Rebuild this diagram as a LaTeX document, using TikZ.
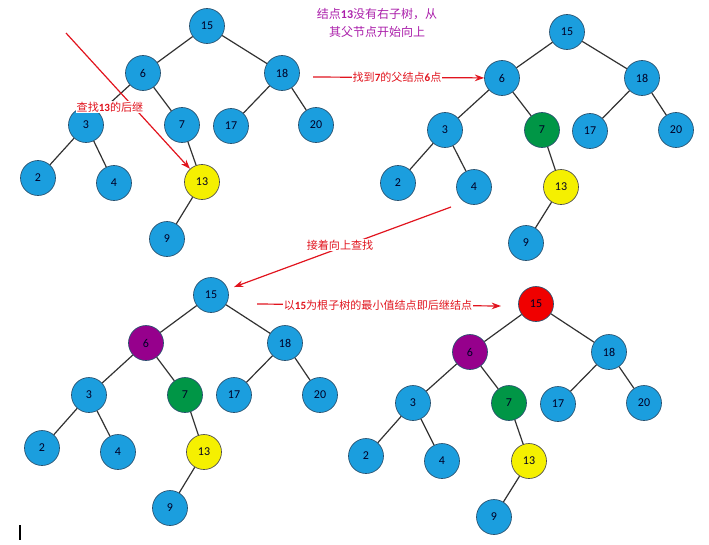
\documentclass[tikz,border=0pt]{standalone}
\usepackage{fontspec}
\setmainfont{Carlito}
\newfontfamily\cjk{Noto Sans CJK SC}
\usetikzlibrary{arrows.meta}
\definecolor{nblue}{RGB}{27,158,222}
\definecolor{nborder}{RGB}{40,80,110}
\definecolor{nyellow}{RGB}{245,240,0}
\definecolor{ngreen}{RGB}{0,150,70}
\definecolor{npurple}{RGB}{150,0,140}
\definecolor{nred}{RGB}{240,0,0}
\definecolor{edgecol}{RGB}{50,50,50}
\definecolor{annred}{RGB}{225,20,30}
\definecolor{annpurple}{RGB}{170,30,170}
\newcommand{\bn}[1]{{\rmfamily\bfseries #1}}
\begin{document}
\begin{tikzpicture}[x=0.75pt,y=-0.75pt,
  tn/.style={circle, draw=nborder, line width=0.5pt, fill=nblue, minimum size=26.25pt, inner sep=0pt,
     text=black!85!blue, font=\fontsize{9}{10}\selectfont},
  yl/.style={tn, fill=nyellow, draw=black!70},
  gr/.style={tn, fill=ngreen},
  pu/.style={tn, fill=npurple},
  rd/.style={tn, fill=nred},
  tedge/.style={draw=edgecol, line width=0.9pt},
  ann/.style={draw=annred, line width=0.9pt},
  annarrow/.style={ann, -{Stealth[length=7pt,width=5pt]}},
  annlbl/.style={fill=white, inner sep=0.5pt, text=annred, font=\cjk\fontsize{8.3}{10}\selectfont}
]
\useasboundingbox (0,0) rectangle (709,544);

% ---------- Tree 1 ----------
\node[tn] (a15) at (207,26) {15};
\node[tn] (a6)  at (143,73) {6};
\node[tn] (a18) at (282,73) {18};
\node[tn] (a3)  at (86,125) {3};
\node[tn] (a7)  at (182,125) {7};
\node[tn] (a17) at (231,126) {17};
\node[tn] (a20) at (316,125) {20};
\node[tn] (a2)  at (38,178) {2};
\node[tn] (a4)  at (114,183) {4};
\node[yl] (a13) at (202,182) {13};
\node[tn] (a9)  at (167,239) {9};
\foreach \p/\c in {a15/a6,a15/a18,a6/a3,a6/a7,a3/a2,a3/a4,a7/a13,a13/a9,a18/a17,a18/a20}
  \draw[tedge] (\p) -- (\c);

% ---------- Tree 2 ----------
\node[tn] (b15) at (567,32) {15};
\node[tn] (b6)  at (502,78) {6};
\node[tn] (b18) at (642,78) {18};
\node[tn] (b3)  at (445,130) {3};
\node[gr] (b7)  at (542,130) {7};
\node[tn] (b17) at (590,131) {17};
\node[tn] (b20) at (676,130) {20};
\node[tn] (b2)  at (398,183) {2};
\node[tn] (b4)  at (474,187) {4};
\node[yl] (b13) at (561,187) {13};
\node[tn] (b9)  at (526,243) {9};
\foreach \p/\c in {b15/b6,b15/b18,b6/b3,b6/b7,b3/b2,b3/b4,b7/b13,b13/b9,b18/b17,b18/b20}
  \draw[tedge] (\p) -- (\c);

% ---------- Tree 3 ----------
\node[tn] (c15) at (211,295) {15};
\node[pu] (c6)  at (146,343) {6};
\node[tn] (c18) at (285,343) {18};
\node[tn] (c3)  at (89,395) {3};
\node[gr] (c7)  at (185,395) {7};
\node[tn] (c17) at (234,395) {17};
\node[tn] (c20) at (320,395) {20};
\node[tn] (c2)  at (42,448) {2};
\node[tn] (c4)  at (118,452) {4};
\node[yl] (c13) at (204,452) {13};
\node[tn] (c9)  at (170,508) {9};
\foreach \p/\c in {c15/c6,c15/c18,c6/c3,c6/c7,c3/c2,c3/c4,c7/c13,c13/c9,c18/c17,c18/c20}
  \draw[tedge] (\p) -- (\c);

% ---------- Tree 4 ----------
\node[rd] (d15) at (536,304) {15};
\node[pu] (d6)  at (470,352) {6};
\node[tn] (d18) at (609,352) {18};
\node[tn] (d3)  at (413,403) {3};
\node[gr] (d7)  at (509,403) {7};
\node[tn] (d17) at (558,404) {17};
\node[tn] (d20) at (644,403) {20};
\node[tn] (d2)  at (366,456) {2};
\node[tn] (d4)  at (442,461) {4};
\node[yl] (d13) at (529,461) {13};
\node[tn] (d9)  at (494,517) {9};
\foreach \p/\c in {d15/d6,d15/d18,d6/d3,d6/d7,d3/d2,d3/d4,d7/d13,d13/d9,d18/d17,d18/d20}
  \draw[tedge] (\p) -- (\c);

% ---------- Annotations ----------
\coordinate (s1) at (66,33);
\draw[annarrow] (s1) -- (a13);
\node[annlbl] (l1) at (110,107) {查找\bn{13}的后继};

\node[text=annpurple, font=\cjk\fontsize{9}{13}\selectfont, align=center] (l2) at (377,23)
  {结点\bn{13}没有右子树，从\\其父节点开始向上};

\coordinate (s3) at (313,77);
\draw[annarrow] (s3) -- (b6);
\node[annlbl] (l3) at (397,77) {找到\bn{7}的父结点\bn{6}点};

\coordinate (s4) at (451,207);
\coordinate (e4) at (234,287);
\draw[annarrow] (s4) -- (e4);
\node[annlbl] (l4) at (340,245) {接着向上查找};

\coordinate (s5) at (257,304);
\coordinate (e5) at (501,306);
\draw[annarrow] (s5) -- (e5);
\node[annlbl] (l5) at (378,305) {以\bn{15}为根子树的最小值结点即后继结点};

% cursor mark
\coordinate (k1) at (20,525);
\coordinate (k2) at (20,540);
\draw[line width=1.3pt] (k1) -- (k2);
\end{tikzpicture}
\end{document}
